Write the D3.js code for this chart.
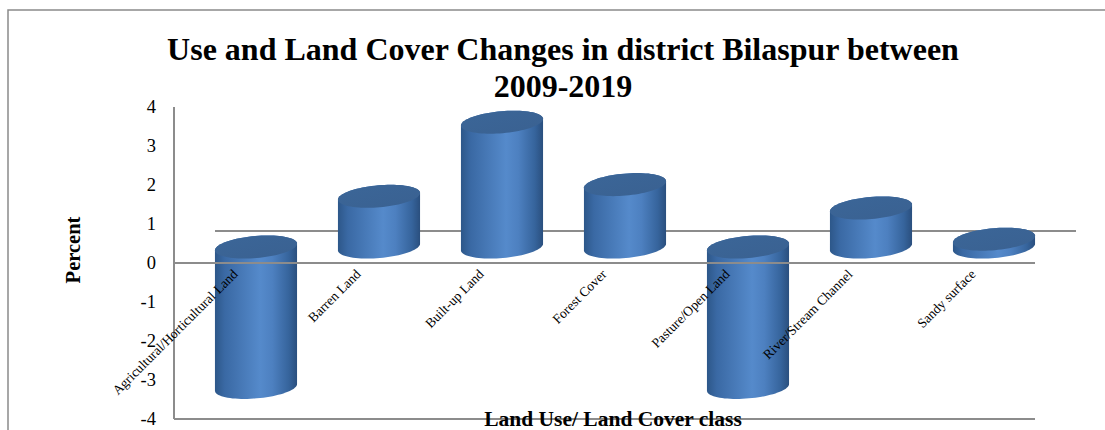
<!DOCTYPE html>
<html><head><meta charset="utf-8">
<script src="https://cdn.jsdelivr.net/npm/d3@7"></script>
<style>body{margin:0;background:#fff}svg{display:block}</style>
</head><body>
<svg id="chart" width="1105" height="430"></svg>
<script>
const categories = ["Agricultural/Horticultural Land","Barren Land","Built-up Land","Forest Cover","Pasture/Open Land","River/Stream Channel","Sandy surface"];
const values = [-3.6, 1.3, 3.2, 1.6, -3.6, 1.0, 0.2];
const tickValues = [-4,-3,-2,-1,0,1,2,3,4];
const titleLines = ["Use and Land Cover Changes in district Bilaspur between","2009-2019"];
const yTitle = "Percent";
const xTitle = "Land Use/ Land Cover class";

(function(){
const svg = d3.select("#chart");
const serif = "'Liberation Serif','Times New Roman',serif";
const pLeft = 174, pRight = 1035, pTop = 107, pBottom = 419;
const depthX = 41, depthY = -32;

const x = d3.scaleBand().domain(categories).range([pLeft, pRight]).paddingInner(0.33).paddingOuter(0.165);
const y = d3.scaleLinear().domain([-4, 4]).range([pBottom, pTop]);

svg.append("rect").attr("x",8).attr("y",10).attr("width",1120).attr("height",440)
  .attr("fill","none").attr("stroke","#8a8a8a").attr("stroke-width",1.5);

const defs = svg.append("defs");
const g1 = defs.append("linearGradient").attr("id","body").attr("x1","0").attr("x2","1").attr("y1","0").attr("y2","0");
[[0,"#2d5789"],[0.12,"#3a69a4"],[0.55,"#558acb"],[0.7,"#4d80c0"],[0.9,"#36649c"],[1,"#2a4f7e"]]
  .forEach(([o,c])=>g1.append("stop").attr("offset",o).attr("stop-color",c));
const g2 = defs.append("linearGradient").attr("id","cap").attr("x1","0").attr("x2","1").attr("y1","0").attr("y2","1");
[[0,"#3b6698"],[1,"#3a6191"]].forEach(([o,c])=>g2.append("stop").attr("offset",o).attr("stop-color",c));

svg.append("line").attr("x1",pLeft+depthX).attr("x2",pRight+depthX)
  .attr("y1",y(0)+depthY).attr("y2",y(0)+depthY).attr("stroke","#8c8c8c").attr("stroke-width",2);

const rx = x.bandwidth()/2, ry = 11, rot = -5*Math.PI/180;
function pt(cx, cy, t){
  return [cx + rx*Math.cos(t)*Math.cos(rot) - ry*Math.sin(t)*Math.sin(rot),
          cy + rx*Math.cos(t)*Math.sin(rot) + ry*Math.sin(t)*Math.cos(rot)];
}
function arc(cx, cy, t0, t1, n){
  const p=[]; for(let i=0;i<=n;i++){ p.push(pt(cx,cy,t0+(t1-t0)*i/n)); } return p;
}
const bars = svg.append("g");
categories.forEach((c,i)=>{
  const v = values[i];
  const cx = x(c) + x.bandwidth()/2 + depthX/2;
  const yT = Math.min(y(v), y(0)) + depthY/2;
  const yB = Math.max(y(v), y(0)) + depthY/2;
  const body = [...arc(cx, yB, Math.PI, 0, 40), ...arc(cx, yT, 0, -Math.PI, 40)];
  bars.append("path").attr("d", d3.line()(body) + "Z").attr("fill","url(#body)");
  bars.append("path").attr("d", d3.line()(arc(cx, yT, 0, 2*Math.PI, 80)) + "Z").attr("fill","url(#cap)");
});

svg.append("line").attr("x1",pLeft).attr("x2",pRight).attr("y1",y(0)).attr("y2",y(0)).attr("stroke","#8c8c8c").attr("stroke-width",2);
svg.append("line").attr("x1",pLeft).attr("x2",pRight).attr("y1",pBottom).attr("y2",pBottom).attr("stroke","#8c8c8c").attr("stroke-width",2);
svg.append("line").attr("x1",pLeft).attr("x2",pLeft).attr("y1",pTop).attr("y2",pBottom).attr("stroke","#8c8c8c").attr("stroke-width",2);

svg.append("g").selectAll("text").data(tickValues).join("text")
  .attr("x",156).attr("y",d=>y(d)).attr("dy","0.35em").attr("text-anchor","end")
  .attr("font-family",serif).attr("font-size",18.5).text(d=>d);

svg.append("g").selectAll("text").data(categories).join("text")
  .attr("transform",d=>`translate(${x(d)+x.bandwidth()/2+3},${y(0)+12}) rotate(-45)`)
  .attr("text-anchor","end").attr("font-family",serif).attr("font-size",13.5).text(d=>d);

svg.append("g").selectAll("text").data(titleLines).join("text")
  .attr("x",563).attr("y",(d,i)=>60+i*37).attr("text-anchor","middle")
  .attr("font-family",serif).attr("font-weight","bold").attr("font-size",32).text(d=>d);
svg.append("text").attr("transform","translate(80,250) rotate(-90)").attr("text-anchor","middle")
  .attr("font-family",serif).attr("font-weight","bold").attr("font-size",20.5).text(yTitle);
svg.append("text").attr("x",613).attr("y",426).attr("text-anchor","middle")
  .attr("font-family",serif).attr("font-weight","bold").attr("font-size",21.5).text(xTitle);
})();
</script>
</body></html>
